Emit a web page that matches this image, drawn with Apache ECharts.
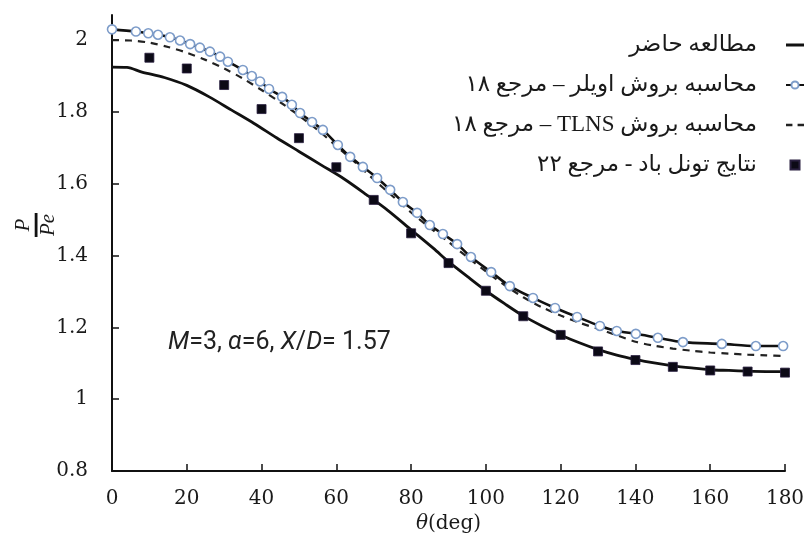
<!DOCTYPE html>
<html>
<head>
<meta charset="utf-8">
<script src="https://cdn.jsdelivr.net/npm/echarts@6/dist/echarts.min.js"></script>
<style>
html,body{margin:0;padding:0;background:#fff;}
#chart{width:808px;height:541px;}
</style>
</head>
<body>
<div id="chart"></div>
<script>
// ---- Data ----
const xTicks = [0, 20, 40, 60, 80, 100, 120, 140, 160, 180];
const yTicks = [0.8, 1, 1.2, 1.4, 1.6, 1.8, 2];

const seriesNames = [
  'مطالعه حاضر',
  'محاسبه بروش اویلر – مرجع ۱۸',
  'محاسبه بروش TLNS – مرجع ۱۸',
  'نتایج تونل باد - مرجع ۲۲'
];

// Present study (solid line)
const presentTheta = [0, 4, 8, 14, 20, 26, 32, 38, 44, 50, 56, 62, 68, 74, 80, 86, 90, 95, 100, 105, 110, 115, 120, 125, 130, 135, 140, 145, 150, 155, 160, 165, 170, 175, 180];
const presentVals  = [1.925, 1.924, 1.911, 1.896, 1.874, 1.842, 1.805, 1.768, 1.728, 1.690, 1.652, 1.614, 1.570, 1.524, 1.472, 1.420, 1.383, 1.342, 1.302, 1.266, 1.232, 1.204, 1.179, 1.157, 1.138, 1.123, 1.111, 1.101, 1.093, 1.087, 1.082, 1.080, 1.078, 1.077, 1.077];

// Euler computation, ref 18 (line with open circles)
const eulerTheta = [0, 6.4, 9.7, 12.3, 15.5, 18.2, 20.9, 23.5, 26.2, 28.9, 31, 35, 37.4, 39.6, 42, 45.5, 48.1, 50.3, 53.5, 56.4, 60.4, 63.7, 67.1, 70.9, 74.4, 77.8, 81.6, 85, 88.5, 92.3, 96, 101.4, 106.4, 112.6, 118.5, 124.4, 130.5, 135, 140.1, 146, 152.7, 163.1, 172.2, 179.5];
const eulerVals  = [2.030, 2.024, 2.019, 2.015, 2.008, 1.999, 1.989, 1.979, 1.968, 1.954, 1.940, 1.917, 1.900, 1.885, 1.864, 1.842, 1.820, 1.797, 1.772, 1.750, 1.708, 1.675, 1.647, 1.616, 1.583, 1.549, 1.519, 1.485, 1.460, 1.432, 1.396, 1.354, 1.315, 1.282, 1.254, 1.229, 1.204, 1.190, 1.182, 1.171, 1.159, 1.154, 1.148, 1.148];

// TLNS computation, ref 18 (dashed)
const tlnsTheta = [0, 5, 10, 15, 20, 25, 30, 35, 40, 45, 50, 55, 60, 65, 70, 75, 80, 85, 90, 95, 100, 105, 110, 115, 120, 125, 130, 135, 140, 145, 150, 155, 160, 165, 170, 175, 180];
const tlnsVals  = [2.000, 1.999, 1.993, 1.981, 1.965, 1.945, 1.921, 1.893, 1.861, 1.827, 1.790, 1.750, 1.705, 1.660, 1.612, 1.566, 1.520, 1.478, 1.438, 1.396, 1.356, 1.318, 1.284, 1.256, 1.233, 1.213, 1.196, 1.178, 1.160, 1.149, 1.141, 1.135, 1.130, 1.127, 1.124, 1.122, 1.120];

// Wind tunnel results, ref 22 (filled squares)
const windTheta = [10, 20, 30, 40, 50, 60, 70, 80, 90, 100, 110, 120, 130, 140, 150, 160, 170, 180];
const windVals  = [1.951, 1.921, 1.875, 1.808, 1.727, 1.646, 1.555, 1.462, 1.379, 1.302, 1.231, 1.179, 1.133, 1.109, 1.090, 1.080, 1.077, 1.074];

// ---- Build ----
const zip = (a, b) => a.map((v, i) => [v, b[i]]);
const rtl = s => '\u202B' + s + '\u202C';
const ink = '#1a1a1a';
const serif = '"DejaVu Serif", "Liberation Serif", serif';

const chart = echarts.init(document.getElementById('chart'), null, {renderer: 'canvas'});

chart.setOption({
  animation: false,
  backgroundColor: '#ffffff',
  grid: {left: 112, right: 23, top: 15, bottom: 70, containLabel: false},
  legend: {
    orient: 'vertical',
    align: 'right',
    right: 3,
    top: 33,
    padding: 0,
    itemGap: 16,
    itemWidth: 18,
    itemHeight: 9,
    symbolKeepAspect: true,
    formatter: name => rtl(name),
    textStyle: {
      fontFamily: '"Liberation Serif", "DejaVu Sans", serif',
      fontSize: 23,
      lineHeight: 24,
      color: ink,
      padding: [0, 24, 0, 0]
    },
    data: [
      {name: seriesNames[0], icon: 'path://M0,0 H18 V3 H0 Z', itemStyle: {color: '#111', borderWidth: 0}},
      {name: seriesNames[1]},
      {name: seriesNames[2], icon: 'path://M0,0 H5 V2 H0 Z M9,0 H14 V2 H9 Z', itemStyle: {color: '#222', borderWidth: 0}},
      {name: seriesNames[3], icon: 'path://M0,0 H8 V8 H0 Z'}
    ]
  },
  xAxis: {
    type: 'value',
    min: 0, max: 180, interval: 20,
    name: '{i|θ}(deg)',
    nameLocation: 'middle',
    nameGap: 42,
    nameTextStyle: {
      fontFamily: serif, fontSize: 20, color: ink,
      rich: {i: {fontFamily: serif, fontStyle: 'italic', fontSize: 20, color: ink}}
    },
    axisLine: {show: true, lineStyle: {color: '#111', width: 2}},
    axisTick: {show: true, inside: true, length: 7, lineStyle: {color: '#111', width: 1.5}},
    axisLabel: {margin: 18, fontFamily: serif, fontSize: 20, color: ink, customValues: xTicks},
    splitLine: {show: false}
  },
  yAxis: {
    type: 'value',
    min: 0.8, max: 2.07,
    axisLine: {show: true, onZero: false, lineStyle: {color: '#111', width: 2}},
    axisTick: {show: true, inside: true, length: 7, lineStyle: {color: '#111', width: 1.5}, customValues: yTicks},
    axisLabel: {margin: 24, fontFamily: serif, fontSize: 20, color: ink, customValues: yTicks},
    splitLine: {show: false}
  },
  graphic: [
    {
      type: 'group',
      x: 36, y: 225,
      rotation: Math.PI / 2,
      children: [
        {type: 'text', x: 0, y: -2, style: {text: 'P', fontFamily: '"Liberation Serif", serif', fontStyle: 'italic', fontSize: 21, fill: ink, align: 'center', verticalAlign: 'bottom'}},
        {type: 'rect', shape: {x: -12, y: -1.3, width: 24, height: 2.8}, style: {fill: '#111'}},
        {type: 'text', x: 0, y: 2, style: {text: 'Pe', fontFamily: '"Liberation Serif", serif', fontStyle: 'italic', fontSize: 21, fill: ink, align: 'center', verticalAlign: 'top'}}
      ]
    },
    {
      type: 'text',
      left: 168, top: 330,
      style: {
        text: '{i|M}=3, {i|α}=6, {i|X}/{i|D}= 1.57',
        fontFamily: 'Roboto', fontSize: 25, fill: '#222',
        rich: {i: {fontFamily: 'Roboto', fontStyle: 'italic', fontSize: 25, color: '#222'}}
      }
    }
  ],
  series: [
    {
      name: seriesNames[0],
      type: 'line',
      data: zip(presentTheta, presentVals),
      smooth: 0.3,
      symbol: 'none',
      lineStyle: {color: '#111', width: 2.8},
      itemStyle: {color: '#111'},
      z: 2
    },
    {
      name: seriesNames[1],
      type: 'line',
      data: zip(eulerTheta, eulerVals),
      smooth: 0.3,
      symbol: 'circle',
      symbolSize: 9,
      showSymbol: true,
      lineStyle: {color: '#111', width: 2.6},
      itemStyle: {color: '#ffffff', borderColor: '#7d9cc9', borderWidth: 1.6},
      z: 4
    },
    {
      name: seriesNames[2],
      type: 'line',
      data: zip(tlnsTheta, tlnsVals),
      smooth: 0.3,
      symbol: 'none',
      lineStyle: {color: '#222', width: 2.2, type: [7, 6]},
      itemStyle: {color: '#222'},
      z: 3
    },
    {
      name: seriesNames[3],
      type: 'scatter',
      data: zip(windTheta, windVals),
      symbol: 'rect',
      symbolSize: 9,
      itemStyle: {color: '#0c0a16', borderColor: '#2a2040', borderWidth: 0.8, opacity: 1},
      z: 5
    }
  ]
});
</script>
</body>
</html>
